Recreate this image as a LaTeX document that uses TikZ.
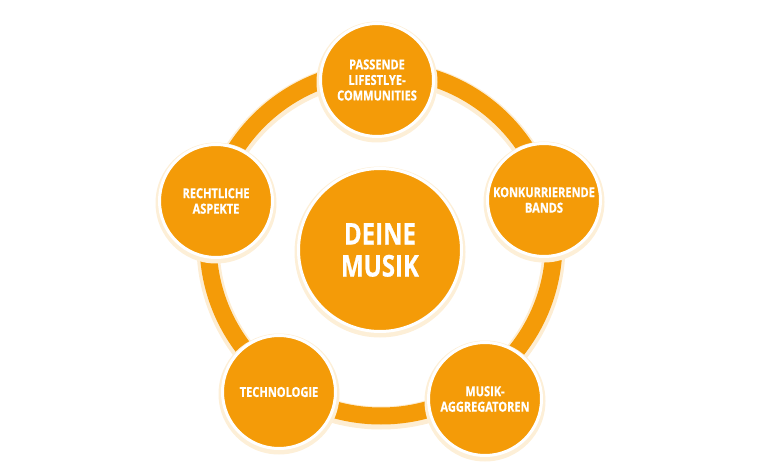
\documentclass[tikz,border=0pt]{standalone}
\usepackage{fontspec}
\setmainfont{Open Sans}[FakeStretch=0.8, BoldFeatures={FakeBold=0.7}]
\definecolor{musikorange}{RGB}{244,155,8}
\tikzset{
  bubble/.style={circle, fill=musikorange, draw=white, line width=3pt,
    minimum size=113pt, inner sep=0pt, text=white, align=center,
    font=\bfseries\fontsize{13.8}{15.5}\selectfont},
  hub/.style={bubble, minimum size=163pt, font=\bfseries\fontsize{30}{32}\selectfont},
  halo/.style={fill=musikorange!16},
  ringline/.style={draw=musikorange, line width=17pt},
  ringhalo/.style={draw=musikorange!18, line width=23pt}
}
\begin{document}
\begin{tikzpicture}[x=1pt,y=-1pt]
\useasboundingbox (0,0) rectangle (760,470);
\coordinate (ringc) at (381,243);
% ring
\draw[ringhalo] ([yshift=-2pt]ringc) circle (173pt);
\draw[ringline] (ringc) circle (173pt);
% halos
\foreach \p in {(377,80),(544,200),(485,399),(279,392),(216,201)}{
  \fill[halo] \p ++(0,2) circle (60.5pt);
}
\fill[halo] (380,252) circle (85.5pt);
% nodes
\node[bubble] (top) at (377,80) {PASSENDE\\LIFESTLYE-\\COMMUNITIES};
\node[bubble] (right) at (544,200) {KONKURRIERENDE\\BANDS};
\node[bubble] (bright) at (485,399) {MUSIK-\\AGGREGATOREN};
\node[bubble] (bleft) at (279,392) {TECHNOLOGIE};
\node[bubble] (left) at (216,201) {RECHTLICHE\\ASPEKTE};
\node[hub] (center) at (380,250) {DEINE\\MUSIK};
\end{tikzpicture}
\end{document}
